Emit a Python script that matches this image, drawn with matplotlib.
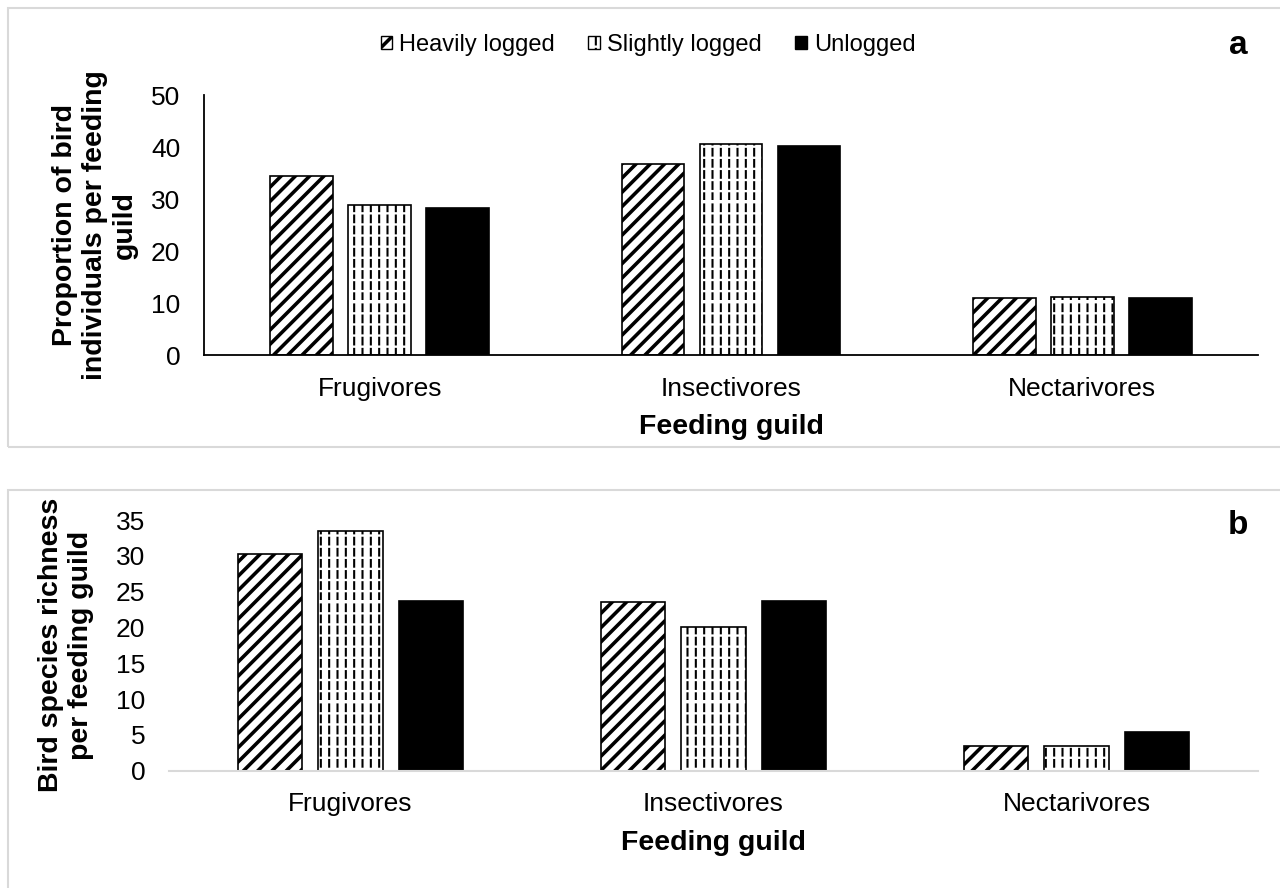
import numpy as np
import matplotlib
matplotlib.use("Agg")
import matplotlib.pyplot as plt
import matplotlib.hatch as mhatch
from matplotlib.path import Path
from matplotlib.patches import Rectangle, Patch

# ---------------- data ----------------
guilds = ["Frugivores", "Insectivores", "Nectarivores"]
series_names = ["Heavily logged", "Slightly logged", "Unlogged"]
prop_heavy = [34.4, 36.7, 10.9]
prop_slight = [28.8, 40.6, 11.2]
prop_unlogged = [28.2, 40.2, 11.0]
rich_heavy = [30.2, 23.6, 3.4]
rich_slight = [33.5, 20.1, 3.4]
rich_unlogged = [23.7, 23.7, 5.4]


# ---------------- custom hatches ----------------
class DashedVerticalHatch(mhatch.HatchPatternBase):
    """'|' -> short vertical dashes arranged in columns."""
    def __init__(self, hatch, density):
        n = hatch.count('|')
        self.ncols = 12 * n
        self.nrows = 9 * n
        self.num_vertices = self.ncols * self.nrows * 2

    def set_vertices_and_codes(self, vertices, codes):
        xs = (np.arange(self.ncols) + 0.5) / self.ncols
        ys = np.arange(self.nrows) / self.nrows
        X, Y = np.meshgrid(xs, ys, indexing="ij")
        X = X.ravel(); Y = Y.ravel()
        vertices[0::2, 0] = X
        vertices[0::2, 1] = Y
        vertices[1::2, 0] = X
        vertices[1::2, 1] = Y + 0.6 / self.nrows
        codes[0::2] = Path.MOVETO
        codes[1::2] = Path.LINETO


class ThickDiagonalHatch(mhatch.HatchPatternBase):
    """'/' -> thick diagonal stripes (each stripe drawn as two close lines)."""
    def __init__(self, hatch, density):
        n = hatch.count('/')
        self.per_unit = 7 * n if n else 0
        self.ks = np.arange(-self.per_unit - 1, self.per_unit + 2) if n else np.array([])
        self.num_vertices = len(self.ks) * 2 * 2

    def set_vertices_and_codes(self, vertices, codes):
        d = 0.0105
        cs = self.ks / self.per_unit
        allc = np.concatenate([cs - d, cs + d])
        vertices[0::2, 0] = -0.2
        vertices[0::2, 1] = -0.2 + allc
        vertices[1::2, 0] = 1.2
        vertices[1::2, 1] = 1.2 + allc
        codes[0::2] = Path.MOVETO
        codes[1::2] = Path.LINETO


def _swap(t):
    if t is mhatch.VerticalHatch:
        return DashedVerticalHatch
    if t is mhatch.NorthEastHatch:
        return ThickDiagonalHatch
    return t


mhatch._hatch_types = [_swap(t) for t in mhatch._hatch_types]

plt.rcParams['font.family'] = ['Liberation Sans', 'DejaVu Sans']
plt.rcParams['hatch.linewidth'] = 1.5
plt.rcParams['hatch.color'] = 'black'

W, H = 1280, 888
fig = plt.figure(figsize=(W / 100, H / 100), dpi=100)
fig.patch.set_facecolor('white')

# panel borders
border = '#d9d9d9'
fig.add_artist(Rectangle((8 / W, 1 - 447 / H), 1.1, 439 / H, transform=fig.transFigure,
                         fill=False, edgecolor=border, lw=1.5))
fig.add_artist(Rectangle((8 / W, -0.1), 1.1, 1 - 490 / H + 0.1, transform=fig.transFigure,
                         fill=False, edgecolor=border, lw=1.5))

styles = [dict(facecolor='white', hatch='/', edgecolor='black'),
          dict(facecolor='white', hatch='|', edgecolor='black'),
          dict(facecolor='black', hatch=None, edgecolor='black')]

bw = 0.178
off = 0.222
x = np.arange(len(guilds))


def draw_panel(ax, series, ymax, ystep, ylabel, label_x, left_spine, base_color):
    for i, vals in enumerate(series):
        ax.bar(x + (i - 1) * off, vals, width=bw, linewidth=1.2, zorder=2, **styles[i])
    ax.set_xlim(-0.5, len(guilds) - 0.5)
    ax.set_ylim(0, ymax)
    ax.set_yticks(np.arange(0, ymax + 0.1, ystep))
    ax.set_xticks(x)
    ax.set_xticklabels(guilds, fontsize=19)
    ax.tick_params(axis='y', length=0, pad=17, labelsize=19)
    ax.tick_params(axis='x', length=0, pad=15.5)
    for s in ['top', 'right']:
        ax.spines[s].set_visible(False)
    ax.spines['left'].set_visible(left_spine)
    ax.spines['left'].set_linewidth(1.3)
    ax.spines['bottom'].set_color(base_color)
    ax.spines['bottom'].set_linewidth(1.5 if base_color != 'black' else 1.3)
    ax.set_xlabel("Feeding guild", fontsize=20.5, fontweight='bold', labelpad=10)
    ax.set_ylabel(ylabel, fontsize=20.5, fontweight='bold', linespacing=1.2, va='center')
    ax.yaxis.set_label_coords(label_x, 0.5)


# panel a
ax1 = fig.add_axes([204 / W, 1 - 355 / H, 1054 / W, 260 / H])
draw_panel(ax1, [prop_heavy, prop_slight, prop_unlogged], 50, 10,
           "Proportion of bird\nindividuals per feeding\nguild", (95 - 204) / 1054, True, 'black')

# panel b
ax2 = fig.add_axes([169 / W, 1 - 770.7 / H, 1089 / W, 250.7 / H])
draw_panel(ax2, [rich_heavy, rich_slight, rich_unlogged], 35, 5,
           "Bird species richness\nper feeding guild", (66 - 169) / 1089, False, border)

fig.text(1238 / W, 1 - 45 / H, "a", fontsize=24, fontweight='bold', ha='center', va='center')
fig.text(1238 / W, 1 - 525 / H, "b", fontsize=24, fontweight='bold', ha='center', va='center')

handles = [Patch(linewidth=1.0, **styles[i]) for i in range(3)]
fig.legend(handles, series_names, loc='center', bbox_to_anchor=(648 / W, 1 - 45 / H),
           ncol=3, frameon=False, fontsize=17, handlelength=0.5, handleheight=0.5,
           handletextpad=0.3, columnspacing=1.4)

fig.savefig("out.png", dpi=100, facecolor='white')
